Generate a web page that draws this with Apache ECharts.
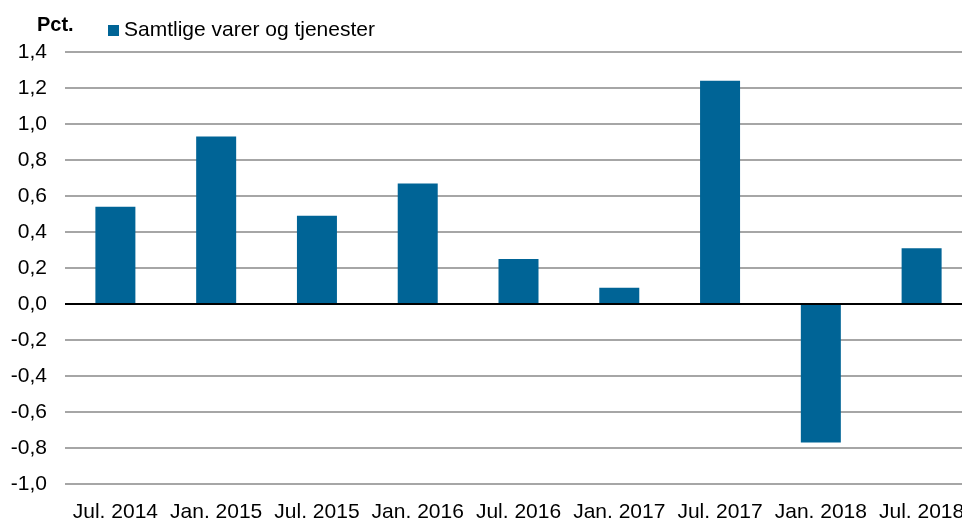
<!DOCTYPE html>
<html>
<head>
<meta charset="utf-8">
<script src="https://cdn.jsdelivr.net/npm/echarts@6/dist/echarts.min.js"></script>
<style>
  html, body { margin: 0; padding: 0; background: #fff; }
  #main { width: 962px; height: 518px; }
</style>
</head>
<body>
<div id="main"></div>
<script>
// periods on the x axis
const categories = ['Jul. 2014', 'Jan. 2015', 'Jul. 2015', 'Jan. 2016', 'Jul. 2016',
                    'Jan. 2017', 'Jul. 2017', 'Jan. 2018', 'Jul. 2018'];
// Samtlige varer og tjenester, pct.
const values = [0.54, 0.93, 0.49, 0.67, 0.25, 0.09, 1.24, -0.77, 0.31];
const seriesName = 'Samtlige varer og tjenester';
const unitLabel = 'Pct.';

const chart = echarts.init(document.getElementById('main'));
const font = 'Liberation Sans, Arial, sans-serif';

const option = {
    animation: false,
    textStyle: { fontFamily: font },
    title: {
        text: unitLabel,
        left: 32,
        top: 10,
        textStyle: { fontFamily: font, fontSize: 20, fontWeight: 'bold', color: '#000' }
    },
    legend: {
        left: 103,
        top: 15,
        itemWidth: 11,
        itemHeight: 11,
        icon: 'rect',
        textStyle: { fontFamily: font, fontSize: 21, color: '#000' },
        data: [seriesName]
    },
    grid: {
        left: 65,
        width: 907,
        top: 52,
        bottom: 34,
        containLabel: false,
        outerBoundsMode: 'none'
    },
    xAxis: {
        type: 'category',
        data: categories,
        axisLine: { show: false },
        axisTick: { show: false },
        axisLabel: {
            interval: 0,
            margin: 18,
            fontSize: 21,
            color: '#000',
            fontFamily: font
        }
    },
    yAxis: {
        type: 'value',
        min: -1.0,
        max: 1.4,
        interval: 0.2,
        axisLine: { show: false },
        axisTick: { show: false },
        axisLabel: {
            margin: 18,
            fontSize: 21,
            color: '#000',
            fontFamily: font,
            formatter: v => v.toFixed(1).replace('.', ',')
        },
        splitLine: { lineStyle: { color: '#a6a6a6', width: 2 } }
    },
    series: [
        {
            name: seriesName,
            type: 'bar',
            data: values,
            barWidth: 40,
            itemStyle: { color: '#006496' },
            markLine: {
                silent: true,
                symbol: 'none',
                label: { show: false },
                lineStyle: { color: '#000', width: 2, type: 'solid' },
                data: [{ yAxis: 0 }]
            }
        }
    ]
};
chart.setOption(option);
</script>
</body>
</html>
